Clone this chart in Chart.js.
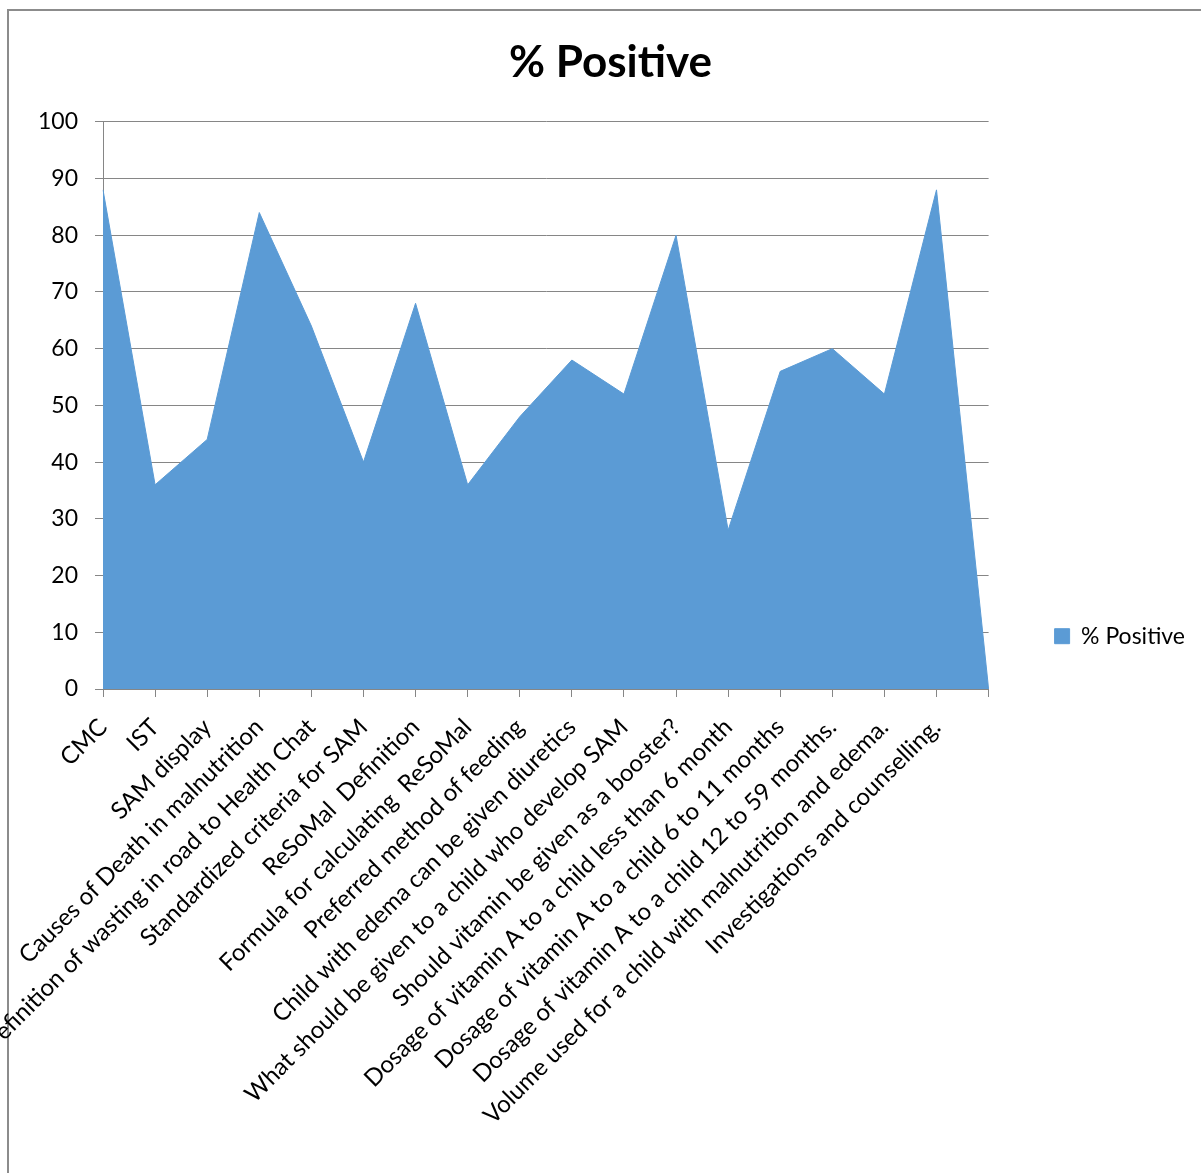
<!DOCTYPE html>
<html>
<head>
<meta charset="utf-8">
<script src="https://cdn.jsdelivr.net/npm/chart.js@4/dist/chart.umd.min.js"></script>
<style>
    body { margin: 0; background: #ffffff; overflow: hidden; }
    #chart { display: block; }
</style>
</head>
<body>
<canvas id="chart" width="1201" height="1173"></canvas>
<script>
var categories = [
    "CMC",
    "IST",
    "SAM display",
    "Causes of Death in malnutrition",
    "Definition of wasting in road to Health Chat",
    "Standardized criteria for SAM",
    "ReSoMal  Definition",
    "Formula for calculating  ReSoMal",
    "Preferred method of feeding",
    "Child with edema can be given diuretics",
    "What should be given to a child who develop SAM",
    "Should vitamin be given as a booster?",
    "Dosage of vitamin A to a child less than 6 month",
    "Dosage of vitamin A to a child 6 to 11 months",
    "Dosage of vitamin A to a child 12 to 59 months.",
    "Volume used for a child with malnutrition and edema.",
    "Investigations and counselling.",
    ""
];
var positive = [88, 36, 44, 84, 64, 40, 68, 36, 48, 58, 52, 80, 28, 56, 60, 52, 88, 0];
var seriesName = "% Positive";
var yTicks = [0, 10, 20, 30, 40, 50, 60, 70, 80, 90, 100];

var area_color = '#5b9bd5';
var grid_color = '#868686';
var font_family = 'Lato, "Open Sans", sans-serif';

// white page + the grey frame around the chart object
var framePlugin = {
    id: 'frame',
    beforeDraw: function (chart) {
        var ctx = chart.ctx;
        ctx.save();
        ctx.fillStyle = '#ffffff';
        ctx.fillRect(0, 0, chart.width, chart.height);
        ctx.strokeStyle = '#8c8c8c';
        ctx.lineWidth = 2;
        ctx.beginPath();
        ctx.moveTo(8, chart.height);
        ctx.lineTo(8, 10);
        ctx.lineTo(chart.width, 10);
        ctx.stroke();
        ctx.restore();
    }
};

var data = {
    labels: categories,
    datasets: [{
        label: seriesName,
        data: positive,
        fill: 'origin',
        backgroundColor: area_color,
        borderColor: area_color,
        borderWidth: 1,
        pointRadius: 0,
        tension: 0
    }]
};

var config = {
    type: 'line',
    data: data,
    plugins: [framePlugin],
    options: {
        responsive: false,
        animation: false,
        devicePixelRatio: 1,
        layout: {
            padding: { left: 26, right: 6, top: 0, bottom: 0 }
        },
        plugins: {
            tooltip: { enabled: false },
            title: {
                display: true,
                text: seriesName,
                color: '#000000',
                font: { family: font_family, size: 44, weight: 'bold', lineHeight: 1.2 },
                padding: { top: 36, bottom: 33 }
            },
            legend: {
                position: 'right',
                title: {
                    display: true,
                    text: '',
                    font: { size: 12, lineHeight: 1.2 },
                    padding: { top: 85, bottom: 0 }
                },
                labels: {
                    color: '#000000',
                    font: { family: font_family, size: 23 },
                    boxWidth: 15,
                    boxHeight: 15,
                    padding: 66
                }
            }
        },
        scales: {
            x: {
                type: 'category',
                offset: false,
                grid: {
                    drawOnChartArea: false,
                    drawTicks: true,
                    tickLength: 8,
                    color: grid_color
                },
                border: { display: true, color: grid_color, width: 1 },
                ticks: {
                    autoSkip: false,
                    maxRotation: 45,
                    minRotation: 45,
                    padding: 16,
                    color: '#000000',
                    font: { family: font_family, size: 24 }
                },
                afterFit: function (scale) {
                    scale.height = 484;
                }
            },
            y: {
                min: 0,
                max: 100,
                afterBuildTicks: function (scale) {
                    scale.ticks = yTicks.map(function (v) { return { value: v }; });
                },
                grid: {
                    color: grid_color,
                    tickLength: 8,
                    drawTicks: true
                },
                border: { display: true, color: grid_color, width: 1 },
                ticks: {
                    padding: 17,
                    color: '#000000',
                    font: { family: font_family, size: 23 }
                },
                afterFit: function (scale) {
                    scale.width = 77;
                }
            }
        }
    }
};

var myChart = new Chart(document.getElementById('chart'), config);
</script>
</body>
</html>
